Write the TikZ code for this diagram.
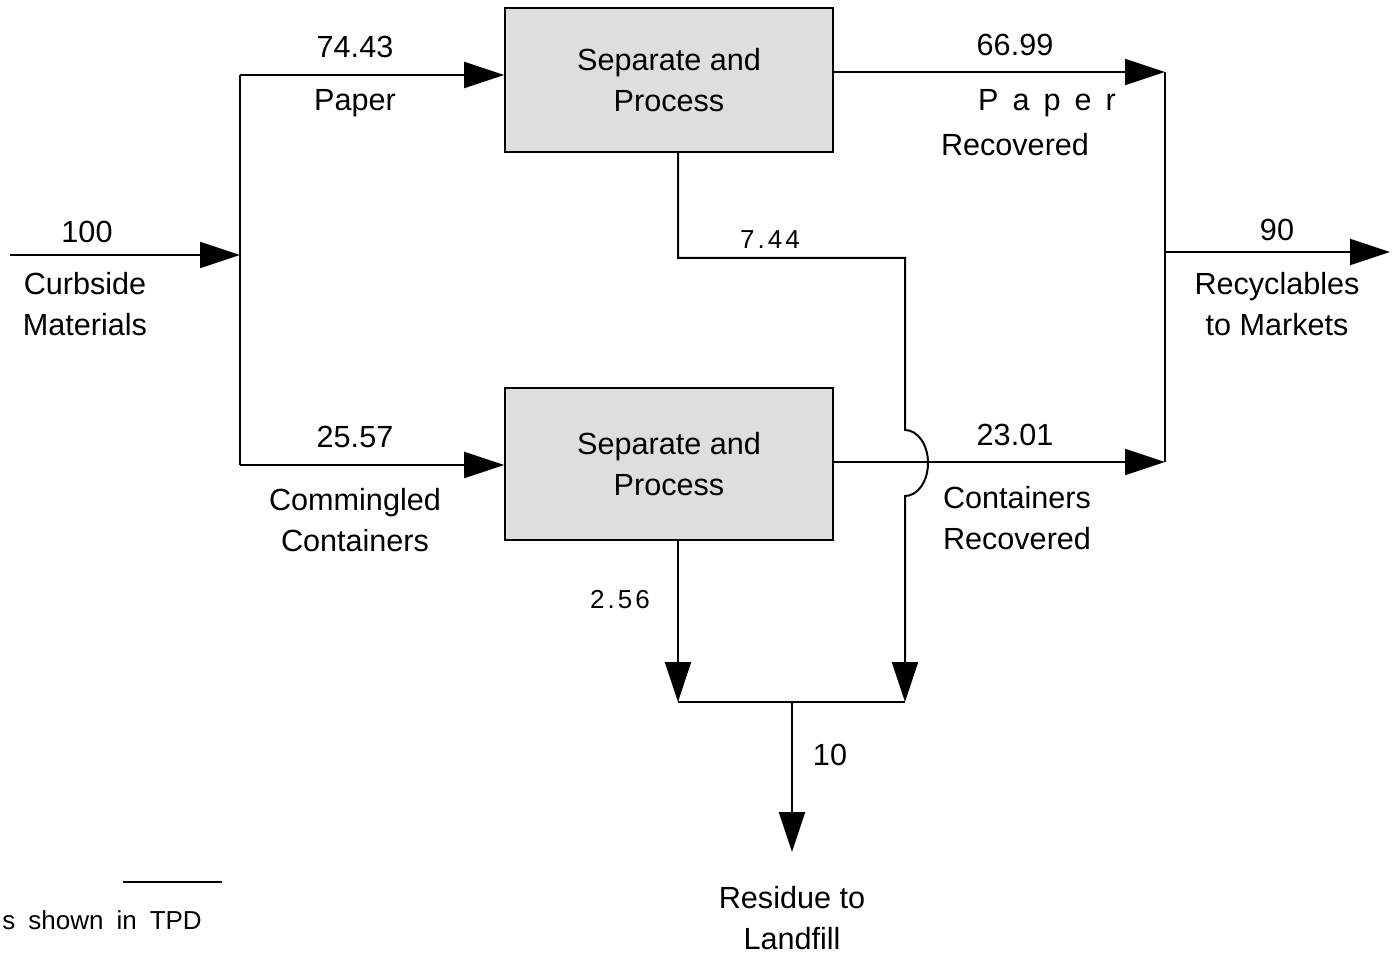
\documentclass[tikz,border=0pt]{standalone}
\usepackage{fontspec}
\setmainfont{Liberation Sans}
\usetikzlibrary{positioning,arrows.meta}
\definecolor{BoxGray}{RGB}{222,222,222}

\begin{document}
\begin{tikzpicture}[
  x=0.5pt, y=-0.5pt,
  font=\fontsize{15.3}{20.5}\selectfont,
  process/.style={draw, line width=0.8pt, fill=BoxGray, minimum width=164pt, minimum height=72pt, align=center, inner sep=0pt},
  lbl/.style={align=center, inner sep=0pt},
  small/.style={inner sep=0pt, font=\fontsize{13}{15}\selectfont},
  flow/.style={-{Triangle[length=20pt,width=13pt]}, line width=1pt},
  pipe/.style={line width=1pt}
]
\useasboundingbox (0,0) rectangle (1392,956);

% Process boxes
\node[process] (sep1) at (669,80) {Separate and\\Process};
\node[process, minimum height=76pt] (sep2) at (669,464) {Separate and\\Process};

% Junction points
\coordinate (src) at (10,255);
\coordinate (split) at (240,255);
\coordinate (splittop) at (240,75);
\coordinate (splitbot) at (240,465);
\coordinate (merge) at (1165,252);
\coordinate (mergetop) at (1165,72);
\coordinate (mergebot) at (1165,462);
\coordinate (market) at (1390,252);
\coordinate (res1) at (678,258);
\coordinate (res1r) at (905,258);
\coordinate (hopin) at (905,430);
\coordinate (collectl) at (678,702);
\coordinate (collectr) at (905,702);
\coordinate (collect) at (792,702);
\coordinate (landfill) at (792,852);
\coordinate (fnl) at (123,882);
\coordinate (fnr) at (222,882);

% Feed and split
\draw[flow] (src) -- (split);
\draw[pipe] (splittop) -- (splitbot);
\draw[flow] (splittop) -- (splittop -| sep1.west);
\draw[flow] (splitbot) -- (splitbot -| sep2.west);

% Recovered streams
\draw[flow] (sep1.east |- mergetop) -- (mergetop);
\draw[flow] (sep2.east |- mergebot) -- (mergebot);
\draw[pipe] (mergetop) -- (mergebot);
\draw[flow] (merge) -- (market);

% Residue streams
\draw[flow] (sep1.south -| res1) -- (res1) -- (res1r) -- (hopin)
  arc[start angle=90, end angle=-90, x radius=11.5pt, y radius=16.5pt] -- (collectr);
\draw[flow] (sep2.south -| collectl) -- (collectl);
\draw[pipe] (collectl) -- (collectr);
\draw[flow] (collect) -- (landfill);

% Labels
\node[lbl] (n100) at (87,232) {100};
\node[lbl] (curb) at (85,304) {Curbside\\Materials};
\node[lbl] (n7443) at (355,47) {74.43};
\node[lbl] (paper) at (355,103) {Paper};
\node[lbl] (n2557) at (355,437) {25.57};
\node[lbl] (comm) at (355,520) {Commingled\\Containers};
\node[lbl] (n6699) at (1015,45) {66.99};
\node[lbl] (paperrec) at (1047,103) {P\hspace{7pt}a\hspace{7pt}p\hspace{7pt}e\hspace{7pt}r};
\node[lbl] (rec1) at (1015,145) {Recovered};
\node[lbl] (n2301) at (1015,435) {23.01};
\node[lbl] (contrec) at (1017,518) {Containers\\Recovered};
\node[lbl] (n90) at (1277,230) {90};
\node[lbl] (mkt) at (1277,304) {Recyclables\\to Markets};
\node[small] (n744) at (770,240) {7\kern1.5pt.\kern1.5pt4\kern1.5pt4};
\node[small] (n256) at (620,600) {2\kern1.5pt.\kern1.5pt5\kern1.5pt6};
\node[lbl] (n10) at (830,755) {10};
\node[lbl] (resid) at (792,918) {Residue to\\Landfill};

% Footnote fragment
\draw[line width=0.7pt] (fnl) -- (fnr);
\node[small, anchor=west] (fntext) at (2,920) {s\hspace{6.5pt}shown\hspace{6.5pt}in\hspace{6.5pt}TPD};
\end{tikzpicture}
\end{document}
